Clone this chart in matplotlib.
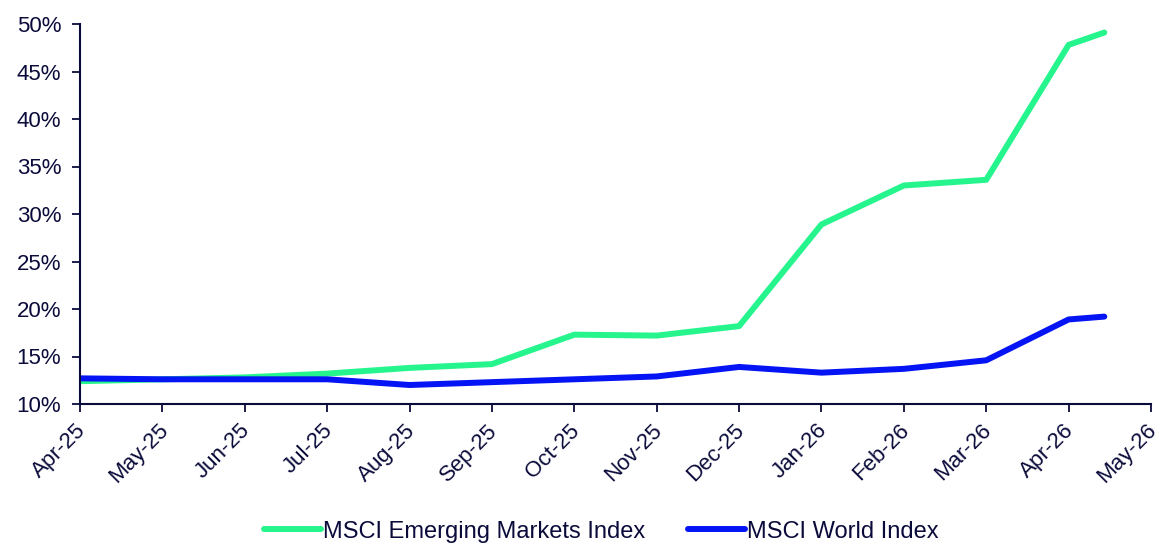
import matplotlib
matplotlib.use("Agg")
import matplotlib.pyplot as plt
from matplotlib.ticker import FixedLocator, FuncFormatter
from matplotlib.transforms import ScaledTranslation
import calendar

# ---- data ----
dates = ["2025-04-01", "2025-05-01", "2025-06-01", "2025-07-01", "2025-08-01",
         "2025-09-01", "2025-10-01", "2025-11-01", "2025-12-01", "2026-01-01",
         "2026-02-01", "2026-03-01", "2026-04-01", "2026-04-14"]
em_values = [12.4, 12.6, 12.8, 13.2, 13.8, 14.2, 17.3, 17.2, 18.2, 28.9, 33.0, 33.6, 47.8, 49.1]
world_values = [12.7, 12.6, 12.6, 12.6, 12.0, 12.3, 12.6, 12.9, 13.9, 13.3, 13.7, 14.6, 18.9, 19.2]
tick_labels = ["Apr-25", "May-25", "Jun-25", "Jul-25", "Aug-25", "Sep-25", "Oct-25",
               "Nov-25", "Dec-25", "Jan-26", "Feb-26", "Mar-26", "Apr-26", "May-26"]
series_names = ["MSCI Emerging Markets Index", "MSCI World Index"]
y_ticks = [10, 15, 20, 25, 30, 35, 40, 45, 50]

# month-based axis position (equal spacing per month, like a month-unit date axis)
def month_pos(s):
    y, m, d = (int(v) for v in s.split("-"))
    return (y - 2025) * 12 + (m - 4) + (d - 1) / calendar.monthrange(y, m)[1]

xs = [month_pos(d) for d in dates]

navy = "#0B0B3B"
green = "#26F58E"
blue = "#0514F5"

plt.rcParams["font.family"] = ["Liberation Sans", "DejaVu Sans"]

fig = plt.figure(figsize=(11.61, 5.43), dpi=100)
ax = fig.add_axes([80 / 1161, 1 - 404 / 543, (1151 - 80) / 1161, (404 - 24) / 543])

ax.plot(xs, em_values, color=green, lw=4.3, solid_capstyle="round",
        solid_joinstyle="round", label=series_names[0])
ax.plot(xs, world_values, color=blue, lw=4.3, solid_capstyle="round",
        solid_joinstyle="round", label=series_names[1])

ax.set_xlim(0, len(tick_labels) - 1)
ax.set_ylim(10, 50)
ax.xaxis.set_major_locator(FixedLocator(list(range(len(tick_labels)))))
ax.set_xticklabels(tick_labels, rotation=45, ha="right", rotation_mode="anchor")
ax.yaxis.set_major_locator(FixedLocator(y_ticks))
ax.yaxis.set_major_formatter(FuncFormatter(lambda v, p: f"{v:.0f}%"))

for side in ("top", "right"):
    ax.spines[side].set_visible(False)
for side in ("left", "bottom"):
    ax.spines[side].set_color(navy)
    ax.spines[side].set_linewidth(1.5)

ax.tick_params(axis="both", colors=navy, labelcolor=navy, labelsize=16,
               length=5.5, width=1.3, direction="out")
ax.tick_params(axis="y", pad=8)
ax.tick_params(axis="x", pad=6)

shift = ScaledTranslation(-5 / 100, 0, fig.dpi_scale_trans)
for lbl in ax.get_xticklabels():
    lbl.set_transform(lbl.get_transform() + shift)

leg = fig.legend(loc="center", bbox_to_anchor=(0.518, 0.021), ncol=2, frameon=False,
                 fontsize=17, handlelength=2.4, handletextpad=0.1,
                 columnspacing=1.8, labelcolor=navy)

fig.savefig("out.png", dpi=100)
